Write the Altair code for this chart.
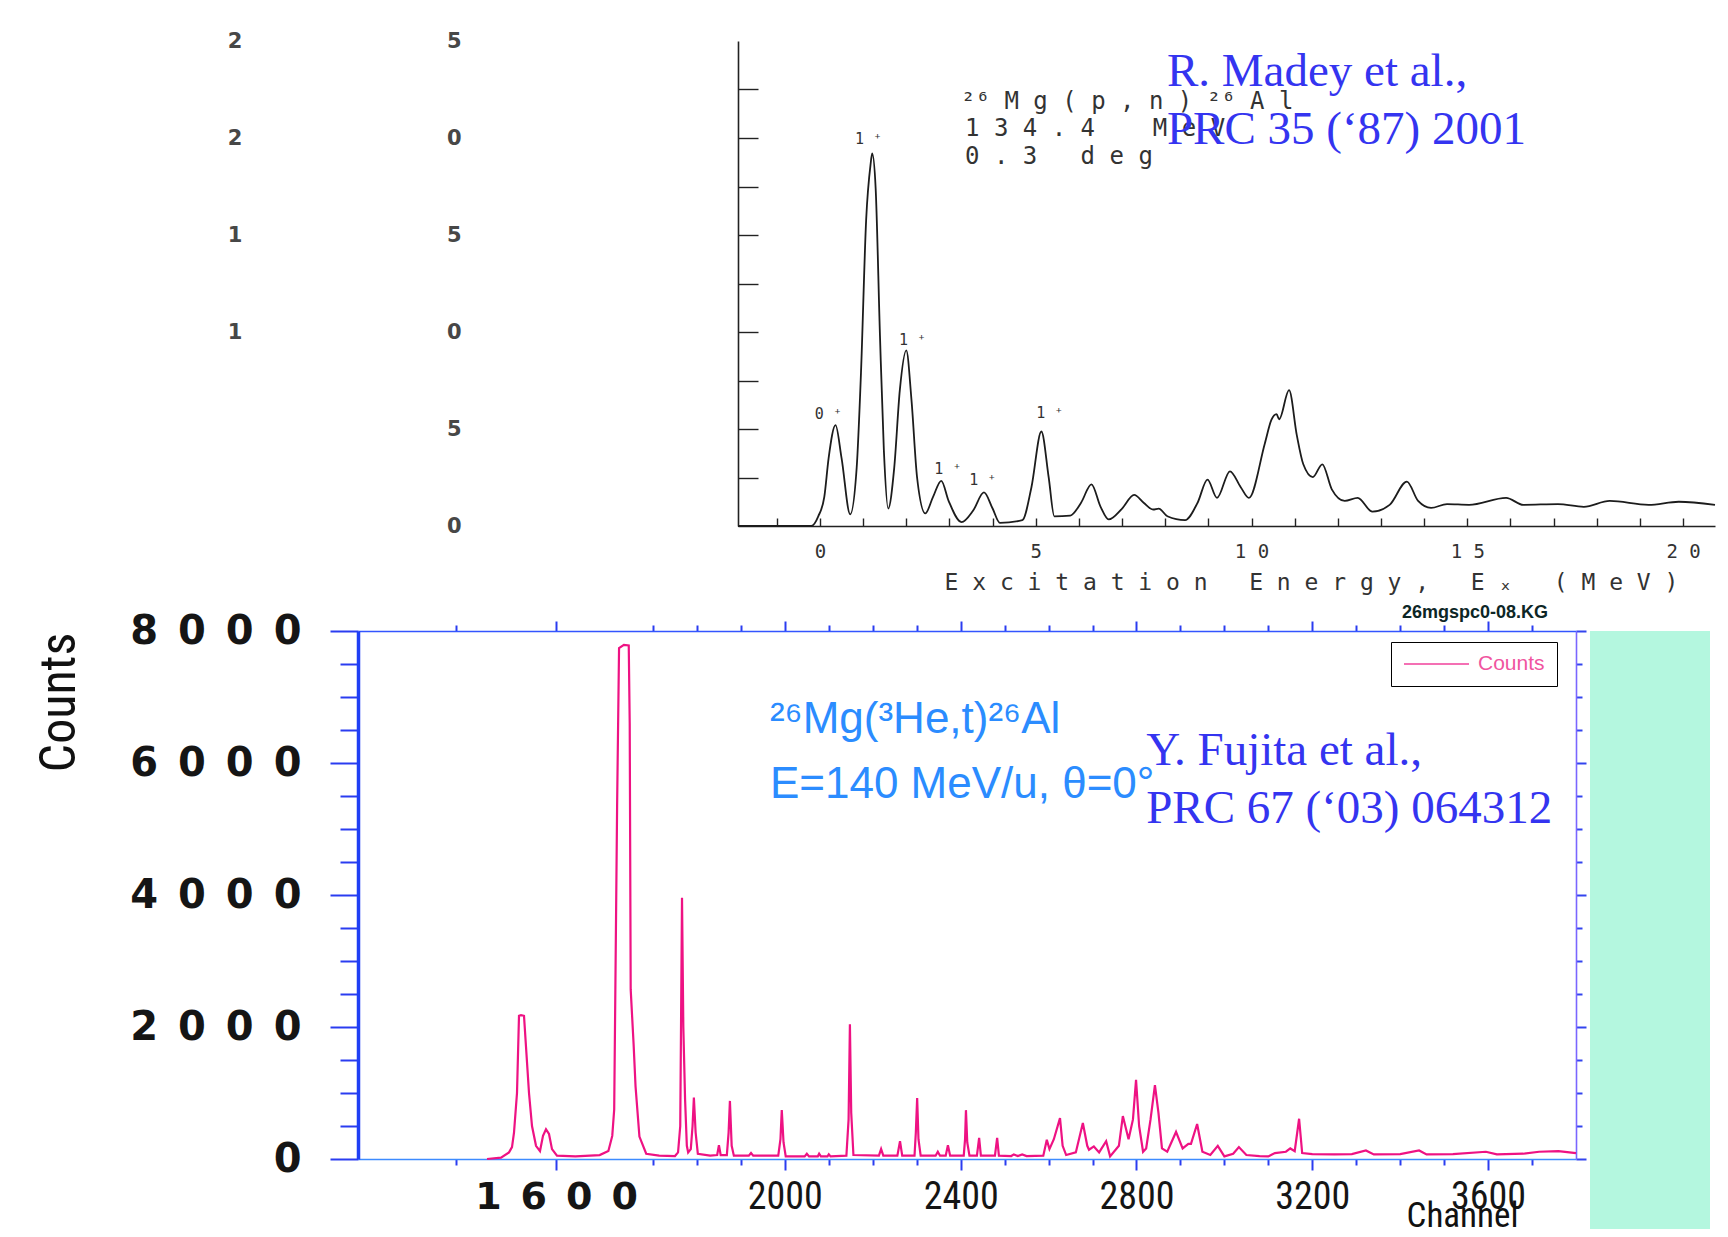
import altair as alt
import pandas as pd

FS = "\u2007"   # figure space
EN = "\u2002"   # en space
NB = "\u00a0"   # no-break space
NARROW = "Liberation Sans Narrow, Roboto Condensed, Liberation Sans, sans-serif"
MONO = "DejaVu Sans Mono"
PINK = "#ee1283"
CITE = "#3434f0"
REACT = "#2b8cff"

# ---------------- top panel: 26Mg(p,n)26Al, 134.4 MeV, 0.3 deg -------------
ex_mev = [-1.9, -0.2, -0.04, 0.1, 0.2, 0.36, 0.5, 0.7, 0.85, 0.95,
          1.07, 1.17, 1.21, 1.29, 1.39, 1.48, 1.58, 1.72, 1.85, 2.0,
          2.12, 2.25, 2.44, 2.62, 2.81, 2.98, 3.28, 3.55, 3.8, 4.0,
          4.17, 4.69, 4.9, 5.13, 5.3, 5.43, 5.8, 6.05, 6.29, 6.5,
          6.69, 7.0, 7.28, 7.5, 7.72, 7.85, 8.05, 8.46, 8.75, 8.98,
          9.2, 9.5, 9.75, 9.94, 10.31, 10.46, 10.58, 10.64, 10.87, 11.05,
          11.2, 11.42, 11.64, 11.86, 12.16, 12.46, 12.8, 13.2, 13.6, 13.86,
          14.16, 14.53, 15.04, 15.9, 16.3, 17.1, 17.7, 18.3, 19.2, 19.9, 20.74]
pn_yield = [0, 0, 0.5, 1.5, 3.5, 5.2, 3.5, 0.6, 3.0, 7.9,
            15.8, 18.6, 19.2, 17.4, 9.8, 3.9, 0.9, 3.0, 7.0, 9.05,
            6.5, 2.5, 0.65, 1.5, 2.33, 1.3, 0.2, 0.8, 1.73, 0.9,
            0.16, 0.3, 2.0, 4.87, 2.5, 0.5, 0.54, 1.2, 2.15, 1.0,
            0.34, 0.9, 1.6, 1.2, 0.85, 0.9, 0.5, 0.3, 1.2, 2.39,
            1.45, 2.82, 2.0, 1.45, 4.27, 5.47, 5.77, 5.5, 7.0, 4.67,
            3.18, 2.52, 3.18, 1.89, 1.29, 1.45, 0.74, 1.09, 2.29, 1.29,
            0.93, 1.13, 1.09, 1.45, 1.09, 1.13, 0.99, 1.29, 1.09, 1.25, 1.09]

peak_ex = [-0.12, 0.81, 1.83, 2.65, 3.46, 5.01]
peak_y = [5.51, 19.68, 9.34, 2.68, 2.13, 5.57]
peak_text = ["0 ⁺", "1 ⁺", "1 ⁺", "1 ⁺", "1 ⁺", "1 ⁺"]

head_ex = [3.27, 3.36, 3.36]
head_y = [21.5, 20.12, 18.64]
head_text = ["²⁶ M g ( p , n ) ²⁶ A l",
             "1 3 4 . 4" + NB * 4 + "M e V",
             "0 . 3" + NB * 3 + "d e g"]

madey_ex = [8.04, 8.04]
madey_y = [22.69, 19.67]
madey_text = ["R. Madey et al.,", "PRC 35 (‘87) 2001"]

top_x_title = (NB * 3).join(NB.join(w) for w in ["Excitation", "Energy,", "Eₓ", "(MeV)"])

# ---------------- bottom panel: 26Mg(3He,t)26Al ----------------------------
channel = [1531, 1545, 1553, 1556, 1558, 1561, 1563, 1565, 1568, 1570,
           1573, 1576, 1580, 1584, 1587, 1590, 1593, 1596, 1601, 1620,
           1645, 1654, 1658, 1660, 1663, 1665, 1670, 1675, 1676, 1677,
           1680, 1682, 1686, 1693, 1714, 1750, 1757, 1762, 1766, 1769,
           1773, 1777, 1780, 1786, 1790, 1793, 1797, 1802, 1830, 1846,
           1850, 1854, 1868, 1872, 1875, 1879, 1884, 1918, 1923, 1928,
           1985, 1990, 1993, 1997, 2002, 2045, 2050, 2055, 2075, 2078,
           2082, 2097, 2100, 2104, 2140, 2145, 2148, 2151, 2156, 2214,
           2219, 2224, 2256, 2262, 2267, 2295, 2298, 2301, 2304, 2309,
           2343, 2348, 2353, 2366, 2371, 2376, 2407, 2410, 2412, 2415,
           2420, 2437, 2442, 2446, 2478, 2483, 2487, 2515, 2521, 2530,
           2540, 2550, 2588, 2596, 2602, 2612, 2626, 2632, 2640, 2662,
           2678, 2688, 2692, 2703, 2715, 2731, 2740, 2760, 2769, 2782,
           2792, 2799, 2806, 2815, 2822, 2832, 2842, 2850, 2858, 2870,
           2890, 2905, 2918, 2924, 2938, 2950, 2968, 2985, 3000, 3020,
           3033, 3050, 3080, 3100, 3115, 3140, 3150, 3160, 3170, 3177,
           3200, 3250, 3290, 3322, 3340, 3400, 3443, 3460, 3520, 3595,
           3620, 3680, 3716, 3760, 3800]
counts = [0, 20, 100, 180, 400, 1000, 2170, 2180, 2170, 1700,
          1000, 500, 200, 120, 350, 450, 380, 150, 50, 40,
          60, 120, 350, 750, 5350, 7740, 7790, 7780, 6600, 2570,
          1740, 1100, 340, 80, 50, 45, 100, 500, 3960, 2000,
          900, 200, 100, 150, 500, 930, 400, 80, 50, 60,
          210, 60, 60, 400, 880, 200, 50, 50, 90, 50,
          50, 300, 740, 250, 40, 40, 80, 40, 40, 80,
          40, 40, 70, 40, 50, 600, 2040, 700, 60, 50,
          150, 50, 50, 270, 50, 50, 400, 925, 300, 50,
          50, 110, 50, 50, 210, 50, 50, 300, 740, 250,
          50, 50, 320, 50, 50, 320, 50, 45, 70, 45,
          70, 45, 50, 290, 150, 300, 620, 200, 60, 100,
          545, 200, 140, 190, 100, 270, 40, 200, 650, 300,
          600, 1200, 500, 110, 160, 600, 1120, 700, 160, 110,
          410, 160, 230, 230, 530, 110, 60, 200, 40, 80,
          180, 60, 45, 40, 90, 110, 160, 120, 610, 90,
          75, 70, 75, 130, 70, 75, 130, 70, 75, 110,
          70, 80, 110, 120, 90]

react_ch = [1966, 1966]
react_cnt = [6455, 5470]
react_text = ["²⁶Mg(³He,t)²⁶Al", "E=140 MeV/u, θ=0°"]

fujita_ch = [2822, 2822]
fujita_cnt = [5970, 5090]
fujita_text = ["Y. Fujita et al.,", "PRC 67 (‘03) 064312"]

file_ch = [3404]
file_cnt = [8200]
file_text = ["26mgspc0-08.KG"]

# ======================= TOP CHART =======================
top_x = alt.Scale(domain=[-1.9, 20.74], range=[380, 1357], nice=False, zero=False)
top_y = alt.Scale(domain=[0, 25], nice=False, zero=False)
top_df = pd.DataFrame({"ex": ex_mev, "y": pn_yield})

y_lab_expr = ("length(datum.label) > 1 ? slice(datum.label, 0, 1) + '" + FS * 14 +
              "' + slice(datum.label, 1) : datum.label")
x_lab_expr = ("length(datum.label) > 1 ? slice(datum.label, 0, 1) + '" + NB +
              "' + slice(datum.label, 1) : datum.label")

top_line = alt.Chart(top_df).mark_line(color="#1c1c1c", strokeWidth=1.8, interpolate="monotone").encode(
    x=alt.X("ex:Q", scale=top_x, axis=alt.Axis(
        orient="bottom", values=[0, 5, 10, 15, 20], ticks=False, tickSize=0,
        domainColor="#222", domainWidth=1.6, grid=False,
        labelFont=MONO, labelFontSize=19, labelColor="#333", labelPadding=16,
        labelFlush=False, labelOverlap=False, labelExpr=x_lab_expr,
        title=top_x_title, titleFont=MONO, titleFontSize=23, titleFontWeight="normal",
        titleColor="#333", titleX=586, titleY=56, titleAlign="left", titleBaseline="middle",
        titleLimit=0)),
    y=alt.Y("y:Q", scale=top_y, axis=alt.Axis(
        orient="left", offset=-380, values=[0, 5, 10, 15, 20, 25], ticks=False, tickSize=0,
        domainColor="#222", domainWidth=1.6, grid=False,
        labelFont="DejaVu Sans", labelFontSize=21, labelFontWeight="bold", labelColor="#474747",
        labelPadding=277, labelLimit=0, labelOverlap=False, labelExpr=y_lab_expr, title=None)),
)

top_ticks = alt.Chart(top_df).mark_line(opacity=0, strokeOpacity=0).encode(
    x=alt.X("ex:Q", scale=top_x, axis=alt.Axis(
        orient="top", offset=-485, values=list(range(-1, 21)), tickSize=8,
        tickColor="#222", tickWidth=1.4, labels=False, domain=False, grid=False, title=None)),
    y=alt.Y("y:Q", scale=top_y, axis=alt.Axis(
        orient="right", offset=-838, values=[2.5 * i for i in range(1, 10)], tickSize=20,
        tickColor="#222", tickWidth=1.4, labels=False, domain=False, grid=False, title=None)),
)

pk_df = pd.DataFrame({"ex": peak_ex, "y": peak_y, "t": peak_text})
top_peaks = alt.Chart(pk_df).mark_text(font=MONO, fontSize=15, color="#333",
                                       align="left", baseline="alphabetic").encode(
    x=alt.X("ex:Q", scale=top_x, axis=None),
    y=alt.Y("y:Q", scale=top_y, axis=None),
    text="t:N")

hd_df = pd.DataFrame({"ex": head_ex, "y": head_y, "t": head_text})
top_head = alt.Chart(hd_df).mark_text(font=MONO, fontSize=24, color="#333",
                                      align="left", baseline="alphabetic").encode(
    x=alt.X("ex:Q", scale=top_x, axis=None),
    y=alt.Y("y:Q", scale=top_y, axis=None),
    text="t:N")

md_df = pd.DataFrame({"ex": madey_ex, "y": madey_y, "t": madey_text})
top_cite = alt.Chart(md_df).mark_text(font="Liberation Serif", fontSize=47, color=CITE,
                                      align="left", baseline="alphabetic").encode(
    x=alt.X("ex:Q", scale=top_x, axis=None),
    y=alt.Y("y:Q", scale=top_y, axis=None),
    text="t:N")

top_chart = alt.layer(top_line, top_ticks, top_peaks, top_head, top_cite).resolve_axis(
    x="independent", y="independent").properties(width=1218, height=485)

# ======================= BOTTOM CHART =======================
ch_scale = alt.Scale(domain=[1400, 1500, 1600, 1700, 3800], range=[0, 98, 198, 295, 1218],
                     nice=False, zero=False)
cnt_scale = alt.Scale(domain=[0, 8000], nice=False, zero=False)
spec_df = pd.DataFrame({"channel": channel, "counts": counts})
spec_df["series"] = "Counts"

x_vals = list(range(1500, 3701, 100))
y_vals = list(range(0, 8001, 500))
bx_expr = ("datum.value % 400 === 0 && datum.value >= 1600 ? (datum.value === 1600 ? "
           "join(split(datum.label, ''), '" + EN + "') : datum.label) : ''")
by_expr = "datum.value % 2000 === 0 ? join(split(datum.label, ''), '" + EN + "') : ''"

bottom_line = alt.Chart(spec_df).mark_line(strokeWidth=2.2).encode(
    x=alt.X("channel:Q", scale=ch_scale, axis=alt.Axis(
        orient="bottom", values=x_vals, format="d",
        tickSize={"condition": {"test": "datum.value % 400 === 0", "value": 11}, "value": 6},
        tickColor="#2a3cf0", tickWidth=2, domainColor="#3d8bff", domainWidth=1.6, grid=False,
        labelFont={"condition": {"test": "datum.value === 1600", "value": "DejaVu Sans"}, "value": NARROW},
        labelFontWeight={"condition": {"test": "datum.value === 1600", "value": "bold"}, "value": "normal"},
        labelFontSize=38, labelColor="#151515", labelPadding=8,
        labelOverlap=False, labelFlush=False, labelExpr=bx_expr,
        title="Channel", titleFont=NARROW, titleFontSize=35, titleFontWeight="normal",
        titleColor="#111", titleX=1104, titleY=56, titleAlign="center", titleBaseline="middle")),
    y=alt.Y("counts:Q", scale=cnt_scale, axis=alt.Axis(
        orient="left", values=y_vals, format="d",
        tickSize={"condition": {"test": "datum.value % 2000 === 0", "value": 28}, "value": 18},
        tickColor="#2a3cf0", tickWidth=2, domainColor="#1f3ff5", domainWidth=3.5, grid=False,
        labelFont="DejaVu Sans", labelFontWeight="bold", labelFontSize=40, labelColor="#151515",
        labelPadding=29, labelOverlap=False, labelExpr=by_expr,
        title="Counts", titleFont=NARROW, titleFontSize=50, titleFontWeight="normal",
        titleColor="#111", titleAngle=270, titleX=-299, titleY=71,
        titleAlign="center", titleBaseline="middle")),
    color=alt.Color("series:N", scale=alt.Scale(domain=["Counts"], range=[PINK]), legend=alt.Legend(
        title=None, orient="none", legendX=1033, legendY=11, symbolType="stroke",
        symbolSize=4225, symbolStrokeWidth=2, symbolOpacity=0.6, clipHeight=20, padding=12,
        strokeColor="#000", fillColor="white", labelFont="Liberation Sans", labelFontSize=21,
        labelColor="#f0559f", labelOffset=8)),
)

bottom_frame = alt.Chart(spec_df).mark_line(opacity=0, strokeOpacity=0).encode(
    x=alt.X("channel:Q", scale=ch_scale, axis=alt.Axis(
        orient="top", values=x_vals,
        tickSize={"condition": {"test": "datum.value % 400 === 0", "value": 10}, "value": 6},
        tickColor="#2a3cf0", tickWidth=2, domainColor="#3355ff", domainWidth=1.6,
        labels=False, grid=False, title=None)),
    y=alt.Y("counts:Q", scale=cnt_scale, axis=alt.Axis(
        orient="right", values=y_vals,
        tickSize={"condition": {"test": "datum.value % 2000 === 0", "value": 10}, "value": 6},
        tickColor="#3344ee", tickWidth=2, domainColor="#7a66ff", domainWidth=1.6,
        labels=False, grid=False, title=None)),
)

re_df = pd.DataFrame({"ch": react_ch, "c": react_cnt, "t": react_text})
bottom_react = alt.Chart(re_df).mark_text(font="Liberation Sans", fontSize=44, color=REACT,
                                          align="left", baseline="alphabetic").encode(
    x=alt.X("ch:Q", scale=ch_scale, axis=None),
    y=alt.Y("c:Q", scale=cnt_scale, axis=None),
    text="t:N")

fj_df = pd.DataFrame({"ch": fujita_ch, "c": fujita_cnt, "t": fujita_text})
bottom_cite = alt.Chart(fj_df).mark_text(font="Liberation Serif", fontSize=47, color=CITE,
                                         align="left", baseline="alphabetic").encode(
    x=alt.X("ch:Q", scale=ch_scale, axis=None),
    y=alt.Y("c:Q", scale=cnt_scale, axis=None),
    text="t:N")

fl_df = pd.DataFrame({"ch": file_ch, "c": file_cnt, "t": file_text})
bottom_file = alt.Chart(fl_df).mark_text(font="Liberation Sans", fontSize=18, fontWeight="bold",
                                         color="#0d2626", align="left", baseline="alphabetic").encode(
    x=alt.X("ch:Q", scale=ch_scale, axis=None),
    y=alt.Y("c:Q", scale=cnt_scale, axis=None),
    text="t:N")

bottom_chart = alt.layer(bottom_line, bottom_frame, bottom_react, bottom_cite, bottom_file).resolve_axis(
    x="independent", y="independent").properties(width=1218, height=528)

# ======================= spacer / mint panel =======================
dummy = pd.DataFrame({"d": [0]})
spacer = alt.Chart(dummy).mark_text(text="").encode(
    x=alt.value(0), y=alt.value(0)).properties(width=1, height=1)
mint = alt.Chart(dummy).mark_text(text="").encode(
    x=alt.value(0), y=alt.value(0)).properties(
    width=120, height=598, view=alt.ViewBackground(fill="#b4f7df", stroke=None))

chart = alt.concat(
    top_chart, spacer, bottom_chart, mint,
    columns=2, spacing={"row": 105, "column": 14}, bounds="flush",
).resolve_scale(color="independent").resolve_legend(color="independent").properties(
    padding={"left": 26, "top": 22, "right": 0, "bottom": 0},
    background="white",
).configure_view(stroke=None)

chart.save("out.html", embed_options={"renderer": "svg", "actions": False})
